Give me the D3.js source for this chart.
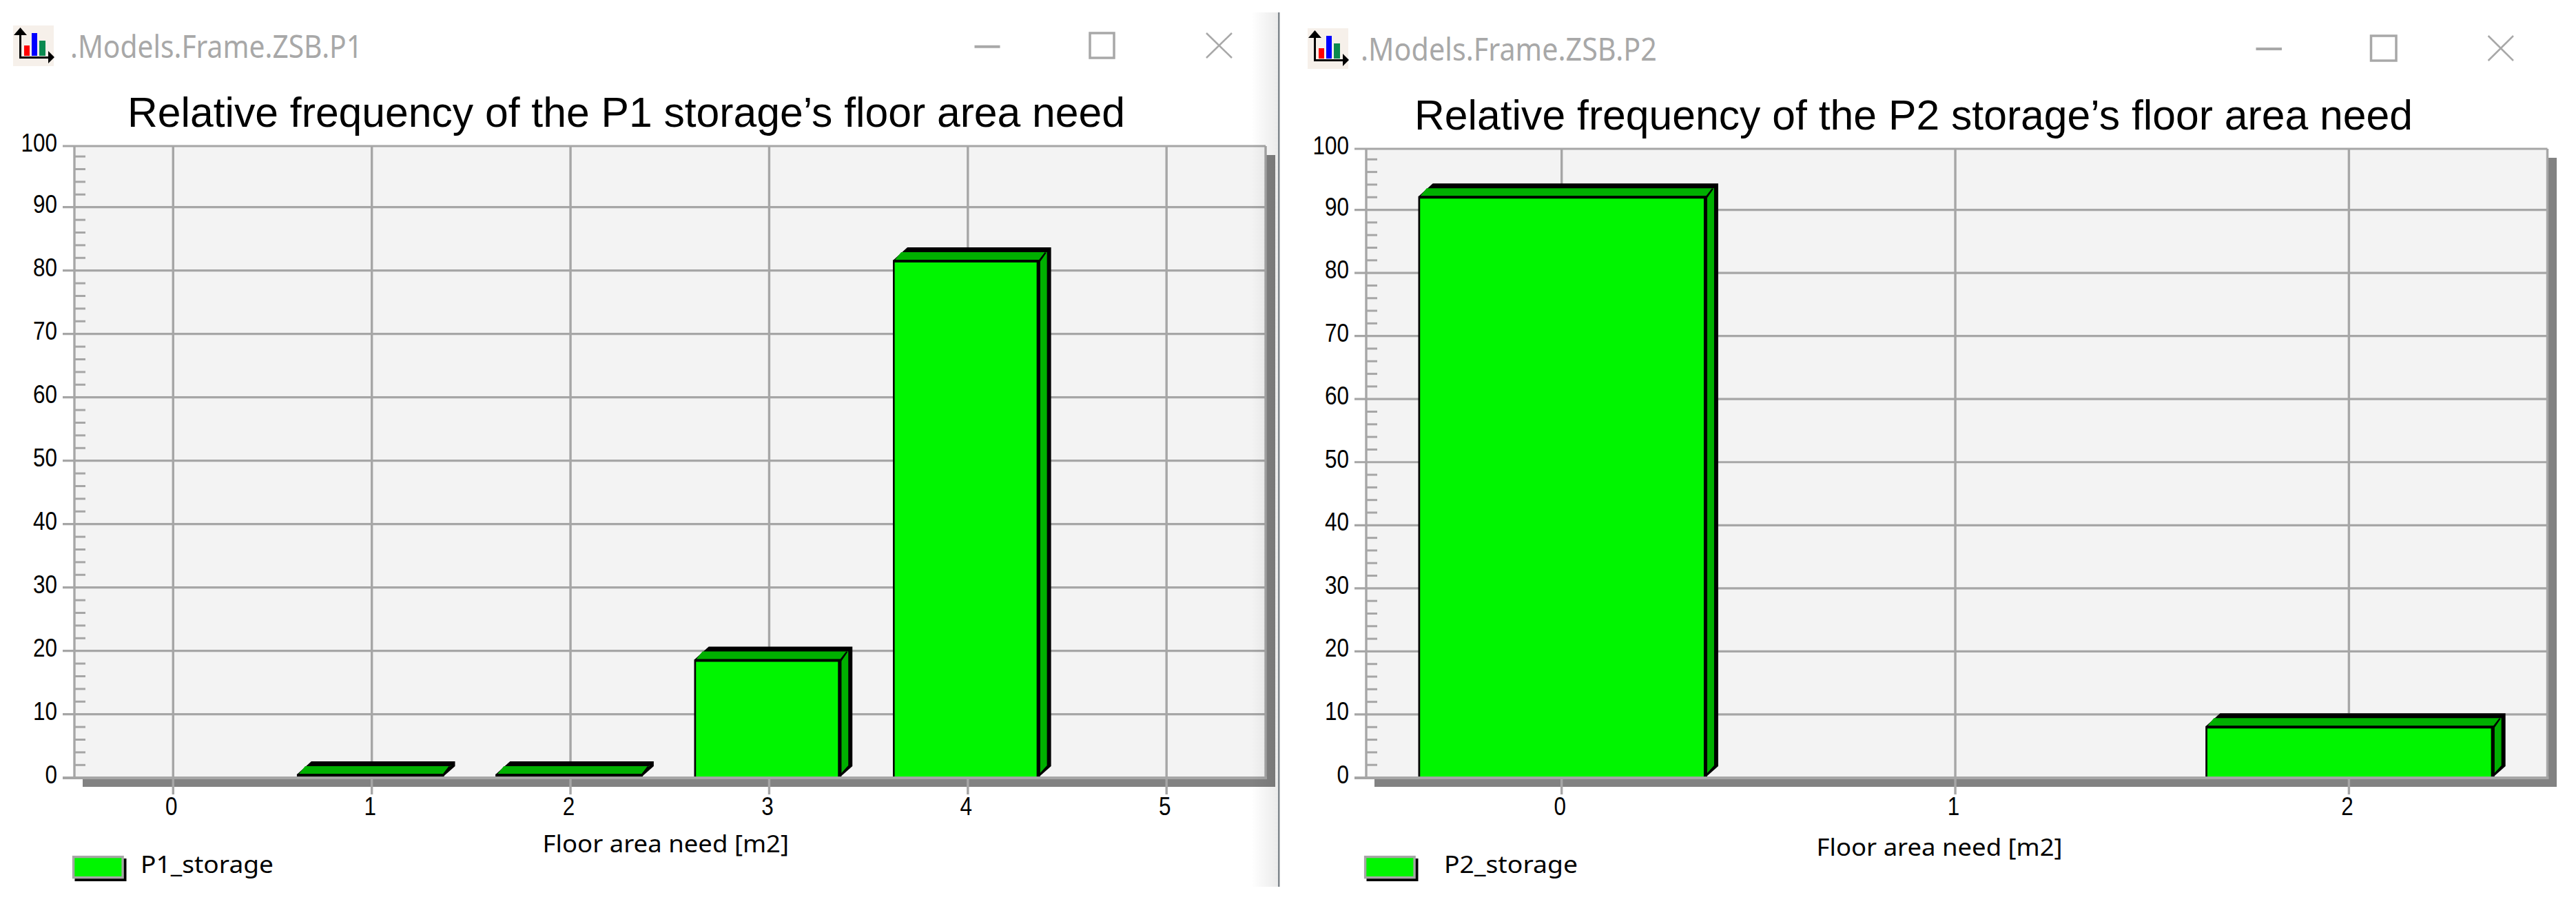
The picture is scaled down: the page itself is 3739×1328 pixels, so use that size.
<!DOCTYPE html>
<html>
<head>
<meta charset="utf-8">
<script src="https://cdn.jsdelivr.net/npm/d3@7"></script>
<style>
  html, body { margin: 0; padding: 0; background: #fff; }
  svg { display: block; }
</style>
</head>
<body>
<svg id="svg" width="3739" height="1328"></svg>
<script>
// values
var p1Categories = [0, 1, 2, 3, 4, 5];
var p1Values = [0, 0.4, 0.4, 18.5, 81.5, 0];
var p2Categories = [0, 1, 2];
var p2Values = [92, 0, 8];
var yMajorTicks = d3.range(0, 101, 10);
var yMinorTicks = d3.range(0, 100, 2).filter(function(d) { return d % 10 !== 0; });

var GRID = "#a6a6a6", SHADOW = "#828282", PLOTBG = "#f3f3f3";
var LIME = "#00f500", DARKLIME = "#00b000";
var TITLEFONT = "'Liberation Sans', Arial, sans-serif";
var UIFONT = "'Noto Sans', sans-serif";

var svg = d3.select("#svg");
var defs = svg.append("defs");
var edge = defs.append("linearGradient").attr("id", "edge");
edge.append("stop").attr("offset", 0).attr("stop-color", "#000").attr("stop-opacity", 0);
edge.append("stop").attr("offset", 1).attr("stop-color", "#000").attr("stop-opacity", 0.08);

drawPanel({
  categories: p1Categories, values: p1Values,
  name: ".Models.Frame.ZSB.P1", title: "Relative frequency of the P1 storage\u2019s floor area need",
  xTitle: "Floor area need [m2]", legend: "P1_storage",
  x0: 251.3, xEnd: 1693.2, left: 108, right: 1837, top: 212, bottom: 1129,
  y0: 1128.7, y100: 208.7, shadowTop: 225, shadowRight: 1851,
  barL: 0.377, barR: 0.36,
  iconX: 0, iconY: 0,
  wname: [102, 526, 84], wtitle: [185, 1633, 184],
  wx: [787.6, 1145, 1237.3], legendX: 105, legendTextX: [204, 397],
  btn: [1414.5, 1451.5, 67.7, 1582, 1617, 48, 84, 1751, 1788]
});

drawPanel({
  categories: p2Categories, values: p2Values,
  name: ".Models.Frame.ZSB.P2", title: "Relative frequency of the P2 storage\u2019s floor area need",
  xTitle: "Floor area need [m2]", legend: "P2_storage",
  x0: 2266.7, xEnd: 3409.4, left: 1983, right: 3697.5, top: 216, bottom: 1129,
  y0: 1128.5, y100: 213, shadowTop: 229, shadowRight: 3711,
  barL: 0.364, barR: 0.368,
  iconX: 1879, iconY: 4,
  wname: [1975, 2405, 88], wtitle: [2053, 3502, 188],
  wx: [2636.6, 2993.6, 1241.7], legendX: 1980, legendTextX: [2096, 2290],
  btn: [3274.5, 3312, 71, 3441.5, 3478, 52, 88, 3611.6, 3648]
});

// divider between the two windows
svg.append("rect").attr("x", 1816).attr("y", 18).attr("width", 39).attr("height", 1269)
  .attr("fill", "url(#edge)");
svg.append("rect").attr("x", 1855).attr("y", 18).attr("width", 2.5).attr("height", 1269)
  .attr("fill", "#7f868c");

function fitted(sel, len) {
  return sel.attr("textLength", len).attr("lengthAdjust", "spacingAndGlyphs");
}

function drawPanel(p) {
  var g = svg.append("g");
  var n = p.categories.length;
  var x = d3.scaleLinear()
    .domain([p.categories[0], p.categories[n - 1]])
    .range([p.x0, p.xEnd]);
  var y = d3.scaleLinear().domain([0, 100]).range([p.y0, p.y100]);
  var clampY = function(v) { return Math.max(y(v), p.top); };

  drawWindowBar(g, p);

  // title
  fitted(g.append("text")
    .attr("x", p.wtitle[0]).attr("y", p.wtitle[2])
    .attr("font-family", TITLEFONT).attr("font-size", 61).attr("fill", "#000")
    .text(p.title), p.wtitle[1] - p.wtitle[0]);

  // shadow behind the plot
  g.append("rect")
    .attr("x", p.left + 12).attr("y", p.bottom)
    .attr("width", p.shadowRight - p.left - 12).attr("height", 13)
    .attr("fill", SHADOW);
  g.append("rect")
    .attr("x", p.right).attr("y", p.shadowTop)
    .attr("width", p.shadowRight - p.right).attr("height", p.bottom + 13 - p.shadowTop)
    .attr("fill", SHADOW);

  g.append("rect")
    .attr("x", p.left).attr("y", p.top)
    .attr("width", p.right - p.left).attr("height", p.bottom - p.top)
    .attr("fill", PLOTBG);

  // grid, with the ticks that stick out of the plot
  g.append("g").selectAll("line").data(yMinorTicks).join("line")
    .attr("x1", p.left).attr("x2", p.left + 16)
    .attr("y1", function(d) { return y(d); }).attr("y2", function(d) { return y(d); })
    .attr("stroke", GRID).attr("stroke-width", 3);
  g.append("g").selectAll("line").data(yMajorTicks).join("line")
    .attr("x1", p.left - 17).attr("x2", p.right)
    .attr("y1", clampY).attr("y2", clampY)
    .attr("stroke", GRID).attr("stroke-width", 3.2);
  g.append("g").selectAll("line").data(p.categories).join("line")
    .attr("x1", function(d) { return x(d); }).attr("x2", function(d) { return x(d); })
    .attr("y1", p.top).attr("y2", p.bottom + 24)
    .attr("stroke", GRID).attr("stroke-width", 3.4);
  g.append("line").attr("x1", p.left).attr("x2", p.left)
    .attr("y1", p.top).attr("y2", p.bottom)
    .attr("stroke", GRID).attr("stroke-width", 3.4);
  g.append("line").attr("x1", p.right).attr("x2", p.right)
    .attr("y1", p.top).attr("y2", p.bottom)
    .attr("stroke", GRID).attr("stroke-width", 3.4);

  // bars
  var bars = p.categories
    .map(function(c, i) { return { c: c, v: p.values[i] }; })
    .filter(function(d) { return d.v > 0; });
  var bar = g.append("g").selectAll("g").data(bars).join("g");
  var poly = function(pts) { return "M" + pts.join("L") + "Z"; };
  var geom = function(d) {
    return { l: x(d.c - p.barL), r: x(d.c + p.barR), t: y(d.v), b: p.bottom - 2 };
  };
  bar.append("path").attr("fill", "#000").attr("d", function(d) {
    var s = geom(d);
    return poly([[s.l, s.b], [s.l, s.t - 1], [s.l + 21, s.t - 20], [s.r + 17, s.t - 20],
      [s.r + 17, s.b - 15], [s.r, s.b]]);
  });
  bar.append("path").attr("fill", DARKLIME).attr("d", function(d) {
    var s = geom(d);
    return poly([[s.l + 3, s.t - 2], [s.l + 12, s.t - 13], [s.r + 11, s.t - 13], [s.r + 11, s.b - 16],
      [s.r + 1, s.b - 5], [s.r + 1, s.t - 2]]);
  });
  bar.append("path").attr("fill", "#000").attr("d", function(d) {
    var s = geom(d);
    return poly([[s.r - 2, s.t], [s.r + 8, s.t - 13], [s.r + 10, s.t - 12], [s.r + 1, s.t + 1]]);
  });
  bar.append("rect").attr("fill", "#000")
    .attr("x", function(d) { return geom(d).l; })
    .attr("y", function(d) { return geom(d).t - 1.5; })
    .attr("width", function(d) { var s = geom(d); return s.r + 1 - s.l; })
    .attr("height", function(d) { var s = geom(d); return Math.max(s.b - s.t + 1.5, 0); });
  bar.append("rect").attr("fill", LIME)
    .attr("x", function(d) { return geom(d).l + 2.5; })
    .attr("y", function(d) { return geom(d).t + 2; })
    .attr("width", function(d) { var s = geom(d); return s.r - 6.5 - s.l; })
    .attr("height", function(d) { var s = geom(d); return Math.max(s.b - s.t - 2, 0); });

  // frame baseline goes over the bars
  g.append("line").attr("x1", p.left - 17).attr("x2", p.right + 2)
    .attr("y1", p.bottom).attr("y2", p.bottom)
    .attr("stroke", GRID).attr("stroke-width", 3.8);

  // tick labels from the d3 axes
  var yAxis = g.append("g")
    .attr("transform", "translate(" + (p.left - 25) + ",0)")
    .call(d3.axisLeft(y).tickValues(yMajorTicks).tickSize(0).tickPadding(0));
  yAxis.select(".domain").remove();
  yAxis.selectAll(".tick").attr("transform", function(d) {
    return "translate(0," + (clampY(d) - 3.5) + ")";
  });
  var xAxis = g.append("g")
    .attr("transform", "translate(-3," + (p.bottom + 24) + ")")
    .call(d3.axisBottom(x).tickValues(p.categories).tickFormat(d3.format("d")).tickSize(0).tickPadding(0));
  xAxis.select(".domain").remove();
  g.selectAll(".tick text")
    .attr("font-family", TITLEFONT).attr("font-size", 36).attr("fill", "#000")
    .attr("textLength", function(d) { return String(d).length * 17.5; })
    .attr("lengthAdjust", "spacingAndGlyphs");
  xAxis.selectAll(".tick text").attr("dy", null).attr("y", 30);

  // axis title
  fitted(g.append("text")
    .attr("x", p.wx[0]).attr("y", p.wx[2])
    .attr("font-family", UIFONT).attr("font-size", 34).attr("fill", "#000")
    .text(p.xTitle), p.wx[1] - p.wx[0]);

  // legend
  g.append("rect").attr("x", p.legendX + 3.5).attr("y", 1246)
    .attr("width", 75).attr("height", 33).attr("fill", "#000");
  g.append("rect").attr("x", p.legendX + 1.6).attr("y", 1243.6)
    .attr("width", 71.5).attr("height", 30)
    .attr("fill", LIME).attr("stroke", GRID).attr("stroke-width", 3.4);
  fitted(g.append("text")
    .attr("x", p.legendTextX[0]).attr("y", 1266.7)
    .attr("font-family", UIFONT).attr("font-size", 34).attr("fill", "#000")
    .text(p.legend), p.legendTextX[1] - p.legendTextX[0]);
}

function drawWindowBar(g, p) {
  var ic = g.append("g").attr("transform", "translate(" + p.iconX + "," + p.iconY + ")");
  ic.append("rect").attr("x", 19).attr("y", 37).attr("width", 59).attr("height", 59).attr("fill", "#f6f0ea");
  ic.append("rect").attr("x", 35).attr("y", 66).attr("width", 8).attr("height", 15).attr("fill", "#f00");
  ic.append("rect").attr("x", 46).attr("y", 48).attr("width", 8).attr("height", 33).attr("fill", "#00f");
  ic.append("rect").attr("x", 57).attr("y", 59).attr("width", 9).attr("height", 22).attr("fill", "#0a8a50");
  ic.append("path").attr("fill", "none").attr("stroke", "#000").attr("stroke-width", 3)
    .attr("d", "M29.5,45V83.5H72");
  ic.append("path").attr("fill", "#000").attr("d", "M29.5,40L20,51H39Z");
  ic.append("path").attr("fill", "#000").attr("d", "M79,83L70,74V92Z");

  fitted(g.append("text")
    .attr("x", p.wname[0]).attr("y", p.wname[2])
    .attr("font-family", UIFONT).attr("font-size", 46).attr("fill", "#a8a8a8")
    .text(p.name), p.wname[1] - p.wname[0]);

  var b = p.btn;
  g.append("line").attr("x1", b[0]).attr("x2", b[1]).attr("y1", b[2]).attr("y2", b[2])
    .attr("stroke", "#a8a8a8").attr("stroke-width", 4);
  g.append("rect").attr("x", b[3]).attr("y", b[5])
    .attr("width", b[4] - b[3]).attr("height", b[6] - b[5])
    .attr("fill", "none").attr("stroke", "#a8a8a8").attr("stroke-width", 3.5);
  g.append("path").attr("fill", "none").attr("stroke", "#a8a8a8").attr("stroke-width", 2.5)
    .attr("d", "M" + b[7] + "," + b[5] + "L" + b[8] + "," + b[6] + "M" + b[8] + "," + b[5] + "L" + b[7] + "," + b[6]);
}
</script>
</body>
</html>
